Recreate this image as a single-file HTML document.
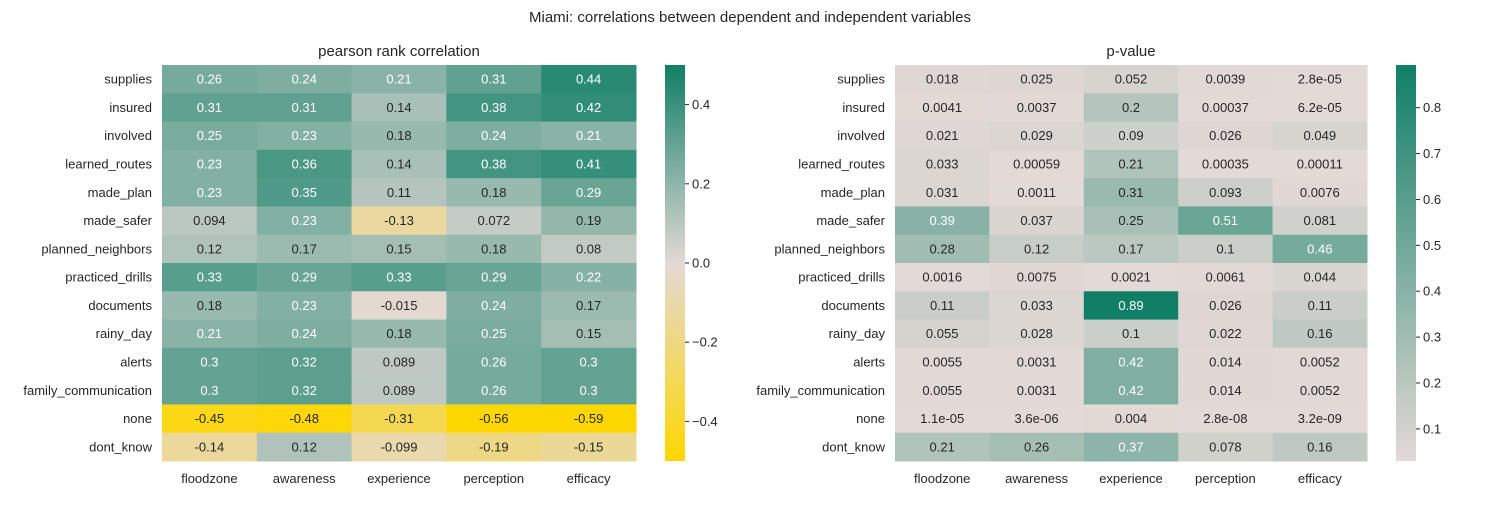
<!DOCTYPE html>
<html><head><meta charset="utf-8"><style>
body{margin:0;background:#fff;}
svg{font-family:"Liberation Sans","DejaVu Sans",sans-serif;}
</style></head><body>
<svg id="c" width="1500" height="500" xmlns="http://www.w3.org/2000/svg">
<defs>
<linearGradient id="g1" x1="0" y1="1" x2="0" y2="0"><stop offset="0" stop-color="#FFD700"/><stop offset="0.5" stop-color="#E3D9D6"/><stop offset="1" stop-color="#107F66"/></linearGradient>
<linearGradient id="g2" x1="0" y1="1" x2="0" y2="0"><stop offset="0" stop-color="#E3D9D6"/><stop offset="1" stop-color="#107F66"/></linearGradient>
</defs>
<text x="750" y="22" text-anchor="middle" font-size="15" fill="#262626">Miami: correlations between dependent and independent variables</text>
</svg>
<script>
const rows=["supplies","insured","involved","learned_routes","made_plan","made_safer","planned_neighbors","practiced_drills","documents","rainy_day","alerts","family_communication","none","dont_know"];
const cols=["floodzone","awareness","experience","perception","efficacy"];
const corr=[
[0.26,0.24,0.21,0.31,0.44],[0.31,0.31,0.14,0.38,0.42],[0.25,0.23,0.18,0.24,0.21],[0.23,0.36,0.14,0.38,0.41],
[0.23,0.35,0.11,0.18,0.29],[0.094,0.23,-0.13,0.072,0.19],[0.12,0.17,0.15,0.18,0.08],[0.33,0.29,0.33,0.29,0.22],
[0.18,0.23,-0.015,0.24,0.17],[0.21,0.24,0.18,0.25,0.15],[0.3,0.32,0.089,0.26,0.3],[0.3,0.32,0.089,0.26,0.3],
[-0.45,-0.48,-0.31,-0.56,-0.59],[-0.14,0.12,-0.099,-0.19,-0.15]];
const pval=[
["0.018","0.025","0.052","0.0039","2.8e-05"],["0.0041","0.0037","0.2","0.00037","6.2e-05"],["0.021","0.029","0.09","0.026","0.049"],
["0.033","0.00059","0.21","0.00035","0.00011"],["0.031","0.0011","0.31","0.093","0.0076"],["0.39","0.037","0.25","0.51","0.081"],
["0.28","0.12","0.17","0.1","0.46"],["0.0016","0.0075","0.0021","0.0061","0.044"],["0.11","0.033","0.89","0.026","0.11"],
["0.055","0.028","0.1","0.022","0.16"],["0.0055","0.0031","0.42","0.014","0.0052"],["0.0055","0.0031","0.42","0.014","0.0052"],
["1.1e-05","3.6e-06","0.004","2.8e-08","3.2e-09"],["0.21","0.26","0.37","0.078","0.16"]];
const corrTicks=[-0.4,-0.2,0.0,0.2,0.4];
const pTicks=[0.1,0.2,0.3,0.4,0.5,0.6,0.7,0.8];
const svg=document.getElementById('c');const NS="http://www.w3.org/2000/svg";
function mk(t,a,txt){const e=document.createElementNS(NS,t);for(const k in a)e.setAttribute(k,a[k]);if(txt!==undefined)e.textContent=txt;svg.appendChild(e);return e;}
const TOP=65,BOT=461,RH=(BOT-TOP)/rows.length;
const Y=[255,217,214],T=[16,127,102],YEL=[255,215,0];
function mix(a,b,f){return `rgb(${a.map((v,i)=>Math.round(v+(b[i]-v)*f)).join(',')})`;}
function corrColor(v){const f=Math.max(-1,Math.min(1,v/0.5));return f>=0?mix([227,217,214],T,f):mix([227,217,214],YEL,-f);}
function pColor(v){const f=Math.max(0,Math.min(1,v/0.893));return mix([227,217,214],T,f);}
function heat(x0,w,vals,colorFn,fracFn,title,cbx,lo,hi,ticks,grad,tickFmt,id){
  const CW=w/cols.length;
  const t=mk('text',{x:x0+w/2,y:56,'text-anchor':'middle','font-size':15,fill:'#262626'},title);
  
  
  rows.forEach((r,i)=>{
    const l=mk('text',{x:x0-10,y:TOP+RH*i+RH/2+4.5,'text-anchor':'end','font-size':13,fill:'#262626'},r);
    
    
    cols.forEach((c,j)=>{
      const raw=vals[i][j];const v=parseFloat(raw);
      const rc=mk('rect',{x:x0+CW*j,y:TOP+RH*i,width:CW+0.5,height:RH+0.5,fill:colorFn(v)});
      
      
      const tx=mk('text',{x:x0+CW*j+CW/2,y:TOP+RH*i+RH/2+4.5,'text-anchor':'middle','font-size':13,fill:fracFn(v)>0.4?'#fff':'#262626'},String(raw));
      
      
    });
  });
  cols.forEach((c,j)=>{
    const l=mk('text',{x:x0+CW*j+CW/2,y:483,'text-anchor':'middle','font-size':13,fill:'#262626'},c);
    
    
  });
  const cb=mk('rect',{x:cbx,y:TOP,width:20,height:BOT-TOP,fill:grad});
  
  
  ticks.forEach(v=>{
    const y=BOT-(v-lo)/(hi-lo)*(BOT-TOP);
    mk('line',{x1:cbx+20,x2:cbx+24,y1:y,y2:y,stroke:'#262626','stroke-width':1});
    const l=mk('text',{x:cbx+27,y:y+4.5,'font-size':13,fill:'#262626'},tickFmt(v));
    
    
  });
}
heat(162,474,corr,corrColor,v=>v/0.5,'pearson rank correlation',665,-0.5,0.5,corrTicks,'url(#g1)',v=>(v<0?'\u2212':'')+Math.abs(v).toFixed(1),'corr');
heat(895,472,pval,pColor,v=>v/0.893,'p-value',1396,0.03,0.893,pTicks,'url(#g2)',v=>v.toFixed(1),'pval');
</script>
</body></html>
